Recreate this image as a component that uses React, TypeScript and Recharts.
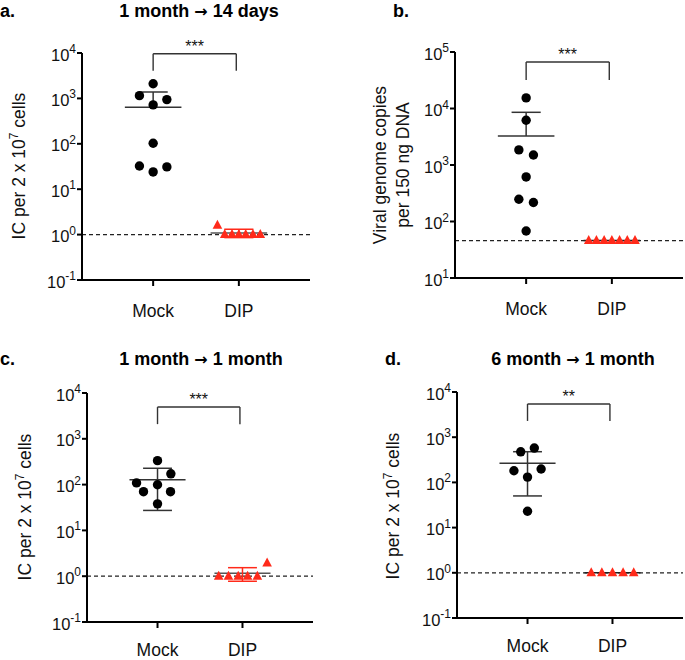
import { ReferenceDot, ReferenceLine, Scatter, ScatterChart, XAxis, YAxis } from "recharts";

const FONT = '"Liberation Sans", Arial, Helvetica, sans-serif';
const RED = "#FF2A1A";

const GROUPS = ["Mock", "DIP"];

// panel a: 1 month -> 14 days
const aMockY = [2100, 1150, 940, 720, 103, 32.5, 24, 31];
const aMockJitter = [0, -0.16, 0.16, 0, 0, -0.16, 0, 0.16];
const aDipY = [1.6, 1, 1, 1, 1, 1, 1];
const aDipJitter = [-0.25, -0.165, -0.08, 0, 0.08, 0.165, 0.25];

// panel b: viral genome copies
const bMockY = [15400, 6200, 1850, 1500, 615, 248, 217, 68];
const bMockJitter = [0, 0, -0.085, 0.085, 0, -0.085, 0.085, 0];
const bDipY = [46, 46, 46, 46, 46, 46, 46];
const bDipJitter = [-0.27, -0.18, -0.09, 0, 0.09, 0.18, 0.27];

// panel c: 1 month -> 1 month
const cMockY = [333, 172, 109, 99, 70, 70, 38];
const cMockJitter = [0, 0.157, -0.247, 0, -0.165, 0.153, 0];
const cDipY = [1, 1, 1, 1, 1, 1.93];
const cDipJitter = [-0.28, -0.165, -0.05, 0.06, 0.175, 0.29];

// panel d: 6 month -> 1 month
const dMockY = [475, 575, 181, 198, 131, 23];
const dMockJitter = [-0.08, 0.08, -0.16, 0.16, 0, 0];
const dDipY = [1, 1, 1, 1, 1];
const dDipJitter = [-0.25, -0.125, 0, 0.125, 0.25];

const IC_TICKS = [0.1, 1, 10, 100, 1000, 10000];
const VG_TICKS = [10, 100, 1000, 10000, 100000];

function stats(v: number[]) {
  const m = v.reduce((s, x) => s + x, 0) / v.length;
  const sd = Math.sqrt(v.reduce((s, x) => s + (x - m) ** 2, 0) / (v.length - 1));
  return { m, sd };
}

const toPoints = (ys: number[], jitter: number[], center: number) =>
  ys.map((y, i) => ({ x: center + jitter[i], y }));

const CircleShape = (p: any) => <circle cx={p.cx} cy={p.cy} r={4.7} fill="#000" />;
const TriShape = (p: any) => (
  <path d={`M${p.cx},${p.cy - 5.5}L${p.cx + 4.8},${p.cy + 3.5}L${p.cx - 4.8},${p.cy + 3.5}Z`} fill={RED} />
);

const makeXTick = (dy: number) => (p: any) => (
  <text x={p.x} y={p.y} dy={dy} textAnchor="middle" style={{ fontSize: 17.5 }} fill="#111">
    {GROUPS[Math.round(p.payload.value) - 1]}
  </text>
);

const YTick = (p: any) => (
  <text x={p.x} y={p.y} dy={7.5} textAnchor="end" fill="#111" style={{ fontSize: 16.5 }}>
    <tspan style={{ fontSize: 16.5 }}>10</tspan>
    <tspan style={{ fontSize: 12 }} dy={-7.5}>
      {Math.round(Math.log10(p.payload.value))}
    </tspan>
  </text>
);

function errorLines(ys: number[], center: number, meanColor: string, errColor: string, key: string) {
  const { m, sd } = stats(ys);
  const out = [
    <ReferenceLine key={key + "m"} segment={[{ x: center - 0.33, y: m }, { x: center + 0.33, y: m }]} stroke={meanColor} strokeWidth={1.5} ifOverflow="visible" />,
  ];
  if (sd > 0) {
    const lo = m - sd > 0 ? m - sd : m;
    out.push(
      <ReferenceLine key={key + "v"} segment={[{ x: center, y: lo }, { x: center, y: m + sd }]} stroke={errColor} strokeWidth={1.5} ifOverflow="visible" />,
      <ReferenceLine key={key + "u"} segment={[{ x: center - 0.17, y: m + sd }, { x: center + 0.17, y: m + sd }]} stroke={errColor} strokeWidth={1.5} ifOverflow="visible" />
    );
    if (m - sd > 0) {
      out.push(
        <ReferenceLine key={key + "l"} segment={[{ x: center - 0.17, y: m - sd }, { x: center + 0.17, y: m - sd }]} stroke={errColor} strokeWidth={1.5} ifOverflow="visible" />
      );
    }
  }
  return out;
}

interface PanelProps {
  left: number;
  top: number;
  width: number;
  margin: { top: number; right: number; bottom: number; left: number };
  ticks: number[];
  mockY: number[];
  mockJitter: number[];
  dipY: number[];
  dipJitter: number[];
  lod: number;
  bracket: [number, number];
  stars: string;
  dipMeanColor: string;
  labelDy: number;
}

function Panel(p: PanelProps) {
  const mock = toPoints(p.mockY, p.mockJitter, 1);
  const dip = toPoints(p.dipY, p.dipJitter, 2);
  const [legY, topY] = p.bracket;
  const XTick = makeXTick(p.labelDy);
  return (
    <div style={{ position: "absolute", left: p.left, top: p.top }}>
      <ScatterChart width={p.width} height={330} margin={p.margin}>
        <XAxis
          type="number"
          dataKey="x"
          domain={[0.17, 2.83]}
          ticks={[1, 2]}
          tick={<XTick />}
          tickSize={6}
          height={30}
          axisLine={{ stroke: "#000", strokeWidth: 2 }}
          tickLine={{ stroke: "#000", strokeWidth: 2 }}
          allowDataOverflow
        />
        <YAxis
          type="number"
          dataKey="y"
          scale="log"
          domain={[p.ticks[0], p.ticks[p.ticks.length - 1]]}
          ticks={p.ticks}
          tick={<YTick />}
          tickSize={5}
          tickMargin={1}
          width={50}
          axisLine={{ stroke: "#000", strokeWidth: 2 }}
          tickLine={{ stroke: "#000", strokeWidth: 2 }}
          allowDataOverflow
        />
        <ReferenceLine y={p.lod} stroke="#222" strokeWidth={1.2} strokeDasharray="4 3" />
        <ReferenceLine segment={[{ x: 1, y: legY }, { x: 1, y: topY }]} stroke="#333" strokeWidth={1.4} ifOverflow="visible" />
        <ReferenceLine segment={[{ x: 1, y: topY }, { x: 1.97, y: topY }]} stroke="#333" strokeWidth={1.4} ifOverflow="visible" />
        <ReferenceLine segment={[{ x: 1.97, y: topY }, { x: 1.97, y: legY }]} stroke="#333" strokeWidth={1.4} ifOverflow="visible" />
        <ReferenceDot
          x={1.485}
          y={topY}
          r={1}
          fill="none"
          stroke="none"
          ifOverflow="visible"
          label={{ value: p.stars, position: "top", offset: 1, fontSize: 16, fill: "#111" }}
        />
        {errorLines(p.mockY, 1, "#333", "#333", "mock")}
        {errorLines(p.dipY, 2, p.dipMeanColor, RED, "dip")}
        <Scatter data={mock} shape={CircleShape} isAnimationActive={false} />
        <Scatter data={dip} shape={TriShape} isAnimationActive={false} />
      </ScatterChart>
    </div>
  );
}

const ICLabel = ({ cx, cy }: { cx: number; cy: number }) => (
  <text x={cx} y={cy} dy="0.35em" textAnchor="middle" fontSize={17.5} fill="#111" transform={`rotate(-90 ${cx} ${cy})`}>
    IC per 2 x 10
    <tspan fontSize={12} dy={-7}>
      7
    </tspan>
    <tspan dy={7}> cells</tspan>
  </text>
);

const Arrow = () => (
  <tspan fontFamily='"DejaVu Sans", sans-serif' fontSize={16}>
    →
  </tspan>
);

export default function App() {
  return (
    <div style={{ position: "absolute", left: 0, top: 0, width: 685, height: 660, background: "#fff", fontFamily: FONT, overflow: "hidden" }}>
      <Panel
        left={0}
        top={0}
        width={340}
        margin={{ top: 53, right: 30, bottom: 20, left: 32 }}
        ticks={IC_TICKS}
        mockY={aMockY}
        mockJitter={aMockJitter}
        dipY={aDipY}
        dipJitter={aDipJitter}
        lod={1}
        bracket={[4050, 9660]}
        stars="***"
        dipMeanColor="#555"
        labelDy={29}
      />
      <Panel
        left={340}
        top={0}
        width={345}
        margin={{ top: 52, right: 2, bottom: 22, left: 65 }}
        ticks={VG_TICKS}
        mockY={bMockY}
        mockJitter={bMockJitter}
        dipY={bDipY}
        dipJitter={bDipJitter}
        lod={46}
        bracket={[31900, 66600]}
        stars="***"
        dipMeanColor="#222"
        labelDy={29}
      />
      <Panel
        left={0}
        top={330}
        width={340}
        margin={{ top: 63, right: 27, bottom: 8, left: 37 }}
        ticks={IC_TICKS}
        mockY={cMockY}
        mockJitter={cMockJitter}
        dipY={cDipY}
        dipJitter={cDipJitter}
        lod={1}
        bracket={[2090, 4930]}
        stars="***"
        dipMeanColor="#555"
        labelDy={26}
      />
      <Panel
        left={340}
        top={330}
        width={345}
        margin={{ top: 62, right: 2, bottom: 12, left: 67 }}
        ticks={IC_TICKS}
        mockY={dMockY}
        mockJitter={dMockJitter}
        dipY={dDipY}
        dipJitter={dDipJitter}
        lod={1}
        bracket={[2290, 5430]}
        stars="**"
        dipMeanColor="#222"
        labelDy={26}
      />
      <svg width={685} height={660} style={{ position: "absolute", left: 0, top: 0, pointerEvents: "none" }}>
        <g fontWeight="bold" fontSize={18} fill="#000">
          <text x={0} y={17}>a.</text>
          <text x={199} y={17} textAnchor="middle">
            1 month <Arrow /> 14 days
          </text>
          <text x={393} y={17}>b.</text>
          <text x={0} y={365}>c.</text>
          <text x={201} y={365} textAnchor="middle">
            1 month <Arrow /> 1 month
          </text>
          <text x={385} y={365}>d.</text>
          <text x={573} y={365} textAnchor="middle">
            6 month <Arrow /> 1 month
          </text>
        </g>
        <ICLabel cx={19} cy={166} />
        <ICLabel cx={25} cy={507} />
        <ICLabel cx={393} cy={506} />
        <g fontSize={17.5} fill="#111" textAnchor="middle">
          <text x={380} y={165} dy="0.35em" transform="rotate(-90 380 165)">Viral genome copies</text>
          <text x={403} y={165} dy="0.35em" transform="rotate(-90 403 165)">per 150 ng DNA</text>
        </g>
      </svg>
    </div>
  );
}
